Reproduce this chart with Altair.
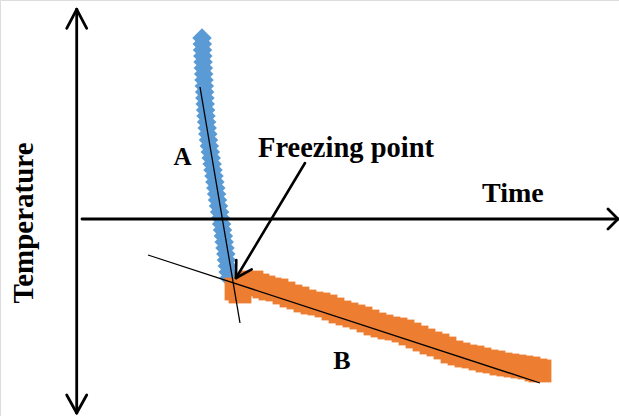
import altair as alt
import pandas as pd

# ---- data (time / temperature in arbitrary units, origin at the axis crossing) ----
a_time = [12.53, 12.56, 12.58, 12.61, 12.64, 12.67, 12.70, 12.73, 12.76, 12.79, 12.82,
          12.85, 12.89, 12.93, 12.99, 13.05, 13.11, 13.18, 13.27, 13.36, 13.45, 13.54,
          13.63, 13.73, 13.82, 13.91, 13.99, 14.08, 14.18, 14.29, 14.39, 14.49, 14.58,
          14.67, 14.75, 14.83, 14.91, 14.98, 15.06, 15.14, 15.23]
a_temp = [18.1, 17.5, 16.9, 16.3, 15.7, 15.1, 14.5, 13.9, 13.3, 12.7, 12.1, 11.5, 10.9,
          10.3, 9.7, 9.1, 8.5, 7.9, 7.3, 6.7, 6.1, 5.5, 4.9, 4.3, 3.7, 3.1, 2.5, 1.9, 1.3,
          0.7, 0.1, -0.5, -1.1, -1.7, -2.3, -2.9, -3.5, -4.1, -4.7, -5.3, -5.9]

b_time = [15.93, 16.33, 16.93, 17.53, 18.13, 18.73, 19.33, 20.03, 20.73, 21.43, 22.13,
          22.83, 23.53, 24.23, 24.93, 25.63, 26.33, 27.03, 27.73, 28.43, 29.13, 29.83,
          30.53, 31.23, 31.93, 32.63, 33.33, 34.03, 34.73, 35.43, 36.13, 36.83, 37.53,
          38.23, 38.93, 39.63, 40.33, 41.03, 41.73, 42.43, 43.13, 43.83, 44.53, 45.23,
          45.93, 46.33]
b_temp = [-7.0, -7.3, -6.5, -6.3, -6.6, -6.8, -7.0, -7.1, -7.4, -7.7, -7.9, -8.2, -8.4,
          -8.5, -8.7, -9.0, -9.3, -9.5, -9.7, -9.9, -10.2, -10.5, -10.7, -10.9, -11.0,
          -11.2, -11.5, -11.8, -12.1, -12.4, -12.6, -12.9, -13.3, -13.5, -13.7, -13.8,
          -14.0, -14.2, -14.3, -14.5, -14.6, -14.7, -14.8, -14.9, -15.1, -15.2]

# tangent lines (start/end points)
tan_t1 = [12.33, 7.13]
tan_T1 = [13.2, -3.6]
tan_t2 = [16.33, 46.33]
tan_T2 = [-10.4, -16.4]

# axis arrows (segments)
axis_t1 = [0.0, 0.53, 0.0, 0.0, 0.0, 0.0, 54.13, 54.13]
axis_T1 = [20.97, 0.0, 20.97, 20.97, -19.4, -19.4, 0.0, 0.0]
axis_t2 = [0.0, 54.13, -1.0, 1.0, -1.0, 1.0, 53.13, 53.13]
axis_T2 = [-19.4, 0.0, 19.07, 19.07, -17.6, -17.6, 1.0, -1.0]

# freezing point arrow (shaft + head)
arr_t1 = [22.83, 15.93, 15.93]
arr_T1 = [5.6, -5.9, -5.9]
arr_t2 = [15.93, 15.96, 17.5]
arr_T2 = [-5.9, -4.1, -5.03]

labels = ["Freezing point", "Time", "A", "B"]
label_t = [18.13, 40.53, 10.58, 26.53]
label_T = [6.2, 1.7, 5.4, -15.0]
label_size = [28.5, 28, 25, 26]
label_align = ["left", "left", "center", "center"]

ylabel = "Temperature"
ylabel_t = -4.37
ylabel_T = -0.4

# ---- chart ----
xs = alt.Scale(domain=[-7.67, 54.23], nice=False, zero=False)
ys = alt.Scale(domain=[-19.7, 21.9], nice=False, zero=False)

def X(f):
    return alt.X(f, type="quantitative", scale=xs, axis=None)

def Y(f):
    return alt.Y(f, type="quantitative", scale=ys, axis=None)

dfa = pd.DataFrame({"t": a_time, "T": a_temp})
dfb = pd.DataFrame({"t": b_time, "T": b_temp})
dft = pd.DataFrame({"t": tan_t1, "T": tan_T1, "t2": tan_t2, "T2": tan_T2})
dfx = pd.DataFrame({"t": axis_t1, "T": axis_T1, "t2": axis_t2, "T2": axis_T2})
dfr = pd.DataFrame({"t": arr_t1, "T": arr_T1, "t2": arr_t2, "T2": arr_T2})

blue = alt.Chart(dfa).mark_point(shape="diamond", filled=True, size=380, opacity=1,
                                 color="#5B9BD5").encode(x=X("t"), y=Y("T"))
orange = alt.Chart(dfb).mark_square(size=520, opacity=1, color="#ED7D31").encode(
    x=X("t"), y=Y("T"))

tangents = alt.Chart(dft).mark_rule(color="black", strokeWidth=1.3).encode(
    x=X("t"), y=Y("T"), x2="t2", y2="T2")
axes = alt.Chart(dfx).mark_rule(color="black", strokeWidth=2.8, strokeCap="round").encode(
    x=X("t"), y=Y("T"), x2="t2", y2="T2")
arrow = alt.Chart(dfr).mark_rule(color="black", strokeWidth=2.6, strokeCap="round").encode(
    x=X("t"), y=Y("T"), x2="t2", y2="T2")

texts = []
for lab, tt, TT, sz, al in zip(labels, label_t, label_T, label_size, label_align):
    d = pd.DataFrame({"t": [tt], "T": [TT], "label": [lab]})
    texts.append(alt.Chart(d).mark_text(font="Liberation Serif", fontWeight="bold",
                                        fontSize=sz, align=al, baseline="alphabetic",
                                        color="black").encode(
        x=X("t"), y=Y("T"), text="label:N"))

dy = pd.DataFrame({"t": [ylabel_t], "T": [ylabel_T], "label": [ylabel]})
ytext = alt.Chart(dy).mark_text(font="Liberation Serif", fontWeight="bold", fontSize=29,
                                align="center", baseline="alphabetic", angle=270,
                                color="black").encode(x=X("t"), y=Y("T"), text="label:N")

chart = alt.layer(blue, orange, tangents, axes, arrow, *texts, ytext).properties(
    width=619, height=416, padding=0, autosize=alt.AutoSizeParams(type="none")
).configure_view(stroke=None).configure(background="white")

chart.save("out.html", embed_options={"renderer": "svg", "actions": False})
